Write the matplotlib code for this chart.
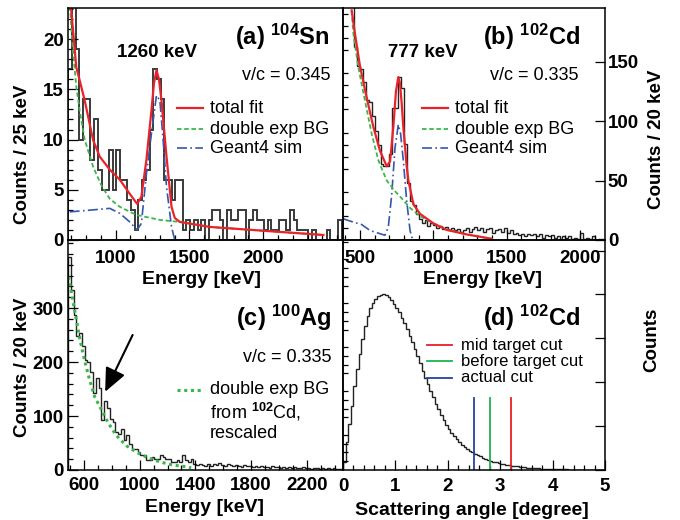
import numpy as np
import matplotlib
matplotlib.use("Agg")
import matplotlib.pyplot as plt
from matplotlib.ticker import MultipleLocator, FixedLocator, NullFormatter

plt.rcParams["font.family"] = ["Liberation Sans", "DejaVu Sans"]
plt.rcParams["font.weight"] = "bold"
plt.rcParams["axes.labelweight"] = "bold"
plt.rcParams["mathtext.fontset"] = "custom"
plt.rcParams["mathtext.rm"] = "Liberation Sans"
plt.rcParams["mathtext.bf"] = "Liberation Sans:bold"
plt.rcParams["mathtext.it"] = "Liberation Sans:italic"

# (a) 104Sn, 25 keV bins starting at 680 keV
sn_start, sn_width = 680, 25
sn_counts = [17, 24, 19, 10, 14, 14, 8, 12, 7, 5, 5, 9, 5, 9, 6, 6, 4, 3, 1, 4, 6, 7, 11, 17, 16,
             14, 6, 6, 4, 6, 6, 1, 2, 1,
             2, 1, 2, 0, 2, 3, 3, 2, 0, 3, 2, 2, 3, 3, 0, 2, 3, 2, 2, 1, 2, 1, 1, 2, 2, 1,
             3, 2, 1, 1, 1, 0, 1, 0, 0, 0, 1, 0, 0, 2, 0]
sn_fit_e = [689, 700, 734, 757, 791, 848, 893, 961, 1029, 1096, 1146, 1175, 1209, 1243, 1260,
            1277, 1294, 1311, 1345, 1379, 1401, 1435, 1638, 2407]
sn_fit_c = [24.7, 22.9, 17.2, 15.9, 13.9, 9.95, 8.3, 7.0, 6.0, 4.6, 3.6, 4.3, 8.0, 12.9, 15.6,
            16.9, 16.0, 13.9, 8.3, 3.3, 2.2, 1.8, 1.3, 0.5]
sn_bg_e = [689, 700, 711, 734, 757, 791, 848, 905, 961, 1029, 1141, 1300, 1435, 1638, 2407]
sn_bg_c = [24, 21.2, 18.9, 15.3, 12.9, 10.0, 7.3, 5.4, 4.1, 3.3, 2.5, 2.0, 1.8, 1.3, 0.5]
sn_sim_e = [689, 848, 961, 1029, 1096, 1146, 1175, 1209, 1243, 1277, 1300, 1322, 1345, 1379, 1401, 2540]
sn_sim_c = [2.8, 3.0, 3.15, 2.65, 1.8, 1.0, 1.66, 6.6, 10.6, 14.4, 13.9, 10.0, 5.3, 1.3, 0, 0]

# (b) 102Cd, 20 keV bins starting at 380 keV
cd_start, cd_width = 380, 20
cd_counts = [240, 225, 210, 198, 162, 146, 144, 133, 118, 116, 104, 92, 80, 64, 62, 62, 72, 111,
             111, 137, 128, 81, 48, 33, 29, 22, 18, 14, 17, 12, 14,
             13, 10, 12, 9, 11, 8, 10, 8, 9, 7, 8, 10, 7, 9, 11, 8, 10, 7, 9, 10,
             6, 8, 9, 7, 10, 6, 8, 5, 6, 4, 5, 3, 5, 4, 5, 3, 5, 2, 4, 3,
             4, 2, 3, 1, 3, 2, 3, 1, 2, 1, 6, 1, 2, 1, 3, 0, 1, 1, 0]
cd_fit_e = [443, 466, 500, 545, 591, 636, 682, 705, 727, 745, 761, 772, 784, 795, 807, 818, 830,
            864, 909, 1000, 1091, 1227, 1398]
cd_fit_c = [193, 173, 146, 120, 95, 75, 62, 66, 95, 125, 137, 132, 115, 95, 78, 62, 50,
            30, 22, 14, 8.5, 4.7, 1]
cd_bg_e = [443, 455, 489, 534, 580, 625, 682, 739, 784, 841, 909, 1000, 1091, 1227, 1398]
cd_bg_c = [193, 173, 145, 117, 89, 67, 50, 41, 35, 27, 20, 14, 9, 4.7, 1]
cd_sim_e = [386, 455, 511, 568, 636, 670, 693, 716, 739, 761, 777, 795, 818, 841, 859, 1400]
cd_sim_c = [17.8, 15, 13, 8, 5.3, 4, 11, 38, 78, 97, 89, 67, 33, 8, 0, 0]

# (c) 100Ag, 20 keV bins starting at 485 keV
ag_start, ag_width = 485, 20
ag_counts = [394, 333, 288, 248, 254, 230, 203, 200, 181, 142, 170, 152, 92, 127, 115, 94, 88,
             70, 66, 76, 55, 64, 48, 39, 39, 33, 27, 27, 18, 18, 24, 21, 21, 27, 24, 21, 21,
             15, 15, 18, 14, 27, 18, 15, 20, 12, 9, 12, 10,
             8, 11, 7, 12, 9, 13, 10, 8, 11, 9, 7, 10, 8, 6, 9, 7, 8, 5, 7, 6,
             8, 5, 6, 4, 7, 5, 6, 4, 5, 3, 6, 4, 5, 3, 4, 5, 3, 4, 2, 4,
             3, 2, 4, 2, 3, 1, 3, 2, 1, 2]
ag_bg_e = [489, 532, 568, 604, 640, 676, 724, 772, 832, 904, 976, 1048, 1144, 1240, 1336, 1370]
ag_bg_c = [358, 297, 245, 203, 167, 136, 112, 88, 64, 45, 33, 24, 15, 9, 6, 4]

# (d) scattering angle, 0.05 degree bins
ang_width = 0.05
ang_counts = [47, 161, 264, 367, 481, 575, 660, 745, 821, 877, 925, 953, 976, 991, 997, 1000,
              996, 985, 968, 948, 925, 898, 868, 836, 802, 766, 728, 688, 648, 607, 566, 526,
              487, 449, 413, 378, 345, 314, 285, 258, 233, 212, 193, 175, 159, 145, 132, 120,
              110, 101, 92, 84, 77, 70, 64, 58, 53, 48, 44, 40, 37, 34, 31, 28, 25, 23, 21,
              19, 17, 15, 13, 12, 11, 10, 9, 8, 7, 6, 6, 5, 5, 4, 4, 3, 3, 3, 2, 2, 2, 2,
              1, 1, 1, 1, 1, 1, 1, 1, 1, 1]
cut_names = ["mid target cut", "before target cut", "actual cut"]
cut_angles = [3.2, 2.8, 2.5]
cut_colors = ["#ea1d25", "#22b24c", "#23439e"]

RED = "#e8232a"
GREEN = "#3cb64a"
BLUE = "#3556ad"
HIST = "#222222"

W, H = 680, 520
fig = plt.figure(figsize=(6.8, 5.2), dpi=100)


def box(x0, y0, x1, y1):
    return [x0 / W, 1 - y1 / H, (x1 - x0) / W, (y1 - y0) / H]


ax_a = fig.add_axes(box(68, 8, 343, 240))
ax_b = fig.add_axes(box(343, 8, 605, 240))
ax_c = fig.add_axes(box(68, 240, 343, 470))
ax_d = fig.add_axes(box(343, 240, 605, 470))

for ax in (ax_a, ax_b, ax_c, ax_d):
    ax.set_facecolor("none")
    for s in ax.spines.values():
        s.set_linewidth(1.1)
    ax.tick_params(which="both", direction="in", labelsize=13.5, width=0.9,
                   top=False, bottom=True)
    ax.tick_params(which="major", length=7)
    ax.tick_params(which="minor", length=3.5)


def edges(start, width, n):
    return start + width * np.arange(n + 1)


def legend_row(ax, x0, x1, xt, y, text, size=13, **kw):
    ax.plot([x0, x1], [y, y], transform=ax.transAxes, clip_on=False, **kw)
    ax.text(xt, y, text, transform=ax.transAxes, ha="left", va="center",
            fontsize=size, fontweight="normal")


# ---------- (a) ----------
ax = ax_a
ax.stairs(sn_counts, edges(sn_start, sn_width, len(sn_counts)), color="#3a3a3a", lw=1.4)
ax.plot(sn_sim_e, sn_sim_c, color=BLUE, lw=1.2, dashes=(6, 2, 1, 2))
ax.plot(sn_bg_e, sn_bg_c, color=GREEN, lw=1.3, dashes=(2.5, 1.5))
ax.plot(sn_fit_e, sn_fit_c, color=RED, lw=1.6)
ax.set_xlim(678, 2540)
ax.set_ylim(0, 23.1)
ax.xaxis.set_major_locator(FixedLocator([1000, 1500, 2000]))
ax.xaxis.set_minor_locator(MultipleLocator(100))
ax.yaxis.set_major_locator(FixedLocator([0, 5, 10, 15, 20]))
ax.yaxis.set_minor_locator(MultipleLocator(1))
ax.tick_params(axis="y", left=True, right=False, labelleft=True, pad=3)
ax.tick_params(axis="x", pad=7)
ax.set_xlabel("Energy [keV]", fontsize=14)
ax.xaxis.set_label_coords(0.484, -0.172)
ax.xaxis.label.set_va("center")
ax.set_ylabel("Counts / 25 keV", fontsize=13.5)
ax.yaxis.set_label_coords(-0.164, 0.37)
ax.yaxis.label.set_va("center")
ax.text(0.953, 0.875, r"(a) $^{\mathbf{104}}$Sn", transform=ax.transAxes, ha="right",
        va="center", fontsize=17)
ax.text(0.3225, 0.81, "1260 keV", transform=ax.transAxes, ha="center", va="center", fontsize=13.5)
ax.text(0.953, 0.711, "v/c = 0.345", transform=ax.transAxes, ha="right", va="center",
        fontsize=13, fontweight="normal")
legend_row(ax, 0.396, 0.491, 0.516, 0.568, "total fit", color=RED, lw=1.6)
legend_row(ax, 0.396, 0.491, 0.516, 0.478, "double exp BG", color=GREEN, lw=1.3, dashes=(2.5, 1.5))
legend_row(ax, 0.396, 0.491, 0.516, 0.396, "Geant4 sim", color=BLUE, lw=1.2, dashes=(6, 2, 1, 2))

# ---------- (b) ----------
ax = ax_b
ax.stairs(cd_counts, edges(cd_start, cd_width, len(cd_counts)), color=HIST, lw=1.0)
ax.plot(cd_sim_e, cd_sim_c, color=BLUE, lw=1.2, dashes=(6, 2, 1, 2))
ax.plot(cd_bg_e, cd_bg_c, color=GREEN, lw=1.3, dashes=(2.5, 1.5))
ax.plot(cd_fit_e, cd_fit_c, color=RED, lw=1.6)
ax.set_xlim(384, 2170)
ax.set_ylim(0, 195)
ax.xaxis.set_major_locator(FixedLocator([500, 1000, 1500, 2000]))
ax.xaxis.set_minor_locator(MultipleLocator(100))
ax.yaxis.set_major_locator(FixedLocator([0, 50, 100, 150]))
ax.yaxis.set_minor_locator(MultipleLocator(10))
ax.tick_params(axis="y", left=False, right=True, labelleft=False, labelright=True, pad=2)
ax.tick_params(axis="x", pad=7)
ax.set_xlabel("Energy [keV]", fontsize=14)
ax.xaxis.set_label_coords(0.534, -0.172)
ax.xaxis.label.set_va("center")
ax.yaxis.set_label_position("right")
ax.set_ylabel("Counts / 20 keV", fontsize=13.5)
ax.yaxis.set_label_coords(1.195, 0.435)
ax.yaxis.label.set_va("center")
ax.text(0.905, 0.875, r"(b) $^{\mathbf{102}}$Cd", transform=ax.transAxes, ha="right",
        va="center", fontsize=17)
ax.text(0.3065, 0.81, "777 keV", transform=ax.transAxes, ha="center", va="center", fontsize=13.5)
ax.text(0.897, 0.711, "v/c = 0.335", transform=ax.transAxes, ha="right", va="center",
        fontsize=13, fontweight="normal")
legend_row(ax, 0.300, 0.402, 0.427, 0.568, "total fit", color=RED, lw=1.6)
legend_row(ax, 0.300, 0.402, 0.427, 0.478, "double exp BG", color=GREEN, lw=1.3, dashes=(2.5, 1.5))
legend_row(ax, 0.300, 0.402, 0.427, 0.396, "Geant4 sim", color=BLUE, lw=1.2, dashes=(6, 2, 1, 2))

# ---------- (c) ----------
ax = ax_c
ax.stairs(ag_counts, edges(ag_start, ag_width, len(ag_counts)), color=HIST, lw=1.0)
ax.plot(ag_bg_e, ag_bg_c, color=GREEN, lw=2.2, dashes=(1, 1.2))
ax.set_xlim(485, 2460)
ax.set_ylim(0, 426)
ax.xaxis.set_major_locator(FixedLocator([600, 1000, 1400, 1800, 2200]))
ax.xaxis.set_minor_locator(MultipleLocator(100))
ax.yaxis.set_major_locator(FixedLocator([0, 100, 200, 300]))
ax.yaxis.set_minor_locator(MultipleLocator(20))
ax.tick_params(axis="y", left=True, right=False, labelleft=True, pad=3)
ax.tick_params(axis="x", pad=5)
ax.set_xlabel("Energy [keV]", fontsize=14)
ax.xaxis.set_label_coords(0.498, -0.161)
ax.xaxis.label.set_va("center")
ax.set_ylabel("Counts / 20 keV", fontsize=13.5)
ax.yaxis.set_label_coords(-0.164, 0.448)
ax.yaxis.label.set_va("center")
ax.text(0.959, 0.661, r"(c) $^{\mathbf{100}}$Ag", transform=ax.transAxes, ha="right",
        va="center", fontsize=17)
ax.text(0.959, 0.487, "v/c = 0.335", transform=ax.transAxes, ha="right", va="center",
        fontsize=13, fontweight="normal")
legend_row(ax, 0.396, 0.491, 0.516, 0.348, "double exp BG", color=GREEN, lw=2.2, dashes=(1, 1.2))
ax.text(0.516, 0.253, r"from $^{\mathrm{102}}$Cd,", transform=ax.transAxes, ha="left",
        va="center", fontsize=13, fontweight="normal")
ax.text(0.516, 0.160, "rescaled", transform=ax.transAxes, ha="left", va="center",
        fontsize=13, fontweight="normal")
ax.annotate("", xy=(0.135, 0.340), xytext=(0.235, 0.587), xycoords="axes fraction",
            arrowprops=dict(arrowstyle="-|>,head_length=0.9,head_width=0.4", color="black",
                            lw=1.5, mutation_scale=16, shrinkA=0, shrinkB=0))

# ---------- (d) ----------
ax = ax_d
ang_edges = ang_width * np.arange(len(ang_counts) + 1)
ax.stairs(ang_counts, ang_edges, color=HIST, lw=1.0)
for ang, col in zip(cut_angles, cut_colors):
    ax.plot([ang, ang], [0, 410], color=col, lw=1.3)
ax.set_xlim(0, 5)
ax.set_ylim(0, 1310)
ax.xaxis.set_major_locator(MultipleLocator(1))
ax.xaxis.set_minor_locator(MultipleLocator(0.2))
ax.yaxis.set_major_locator(MultipleLocator(250))
ax.yaxis.set_minor_locator(MultipleLocator(50))
ax.yaxis.set_major_formatter(NullFormatter())
ax.tick_params(axis="y", left=False, right=True, labelleft=False, labelright=False)
ax.tick_params(axis="x", pad=6)
ax.set_xlabel("Scattering angle [degree]", fontsize=14)
ax.xaxis.set_label_coords(0.492, -0.174)
ax.xaxis.label.set_va("center")
ax.yaxis.set_label_position("right")
ax.set_ylabel("Counts", fontsize=13.5)
ax.yaxis.set_label_coords(1.18, 0.565)
ax.yaxis.label.set_va("center")
ax.text(0.905, 0.661, r"(d) $^{\mathbf{102}}$Cd", transform=ax.transAxes, ha="right",
        va="center", fontsize=17)
for name, col, y in zip(cut_names, cut_colors, [0.542, 0.472, 0.402]):
    legend_row(ax, 0.321, 0.416, 0.449, y, name, size=12, color=col, lw=1.3)

fig.savefig("out.png", dpi=100)
